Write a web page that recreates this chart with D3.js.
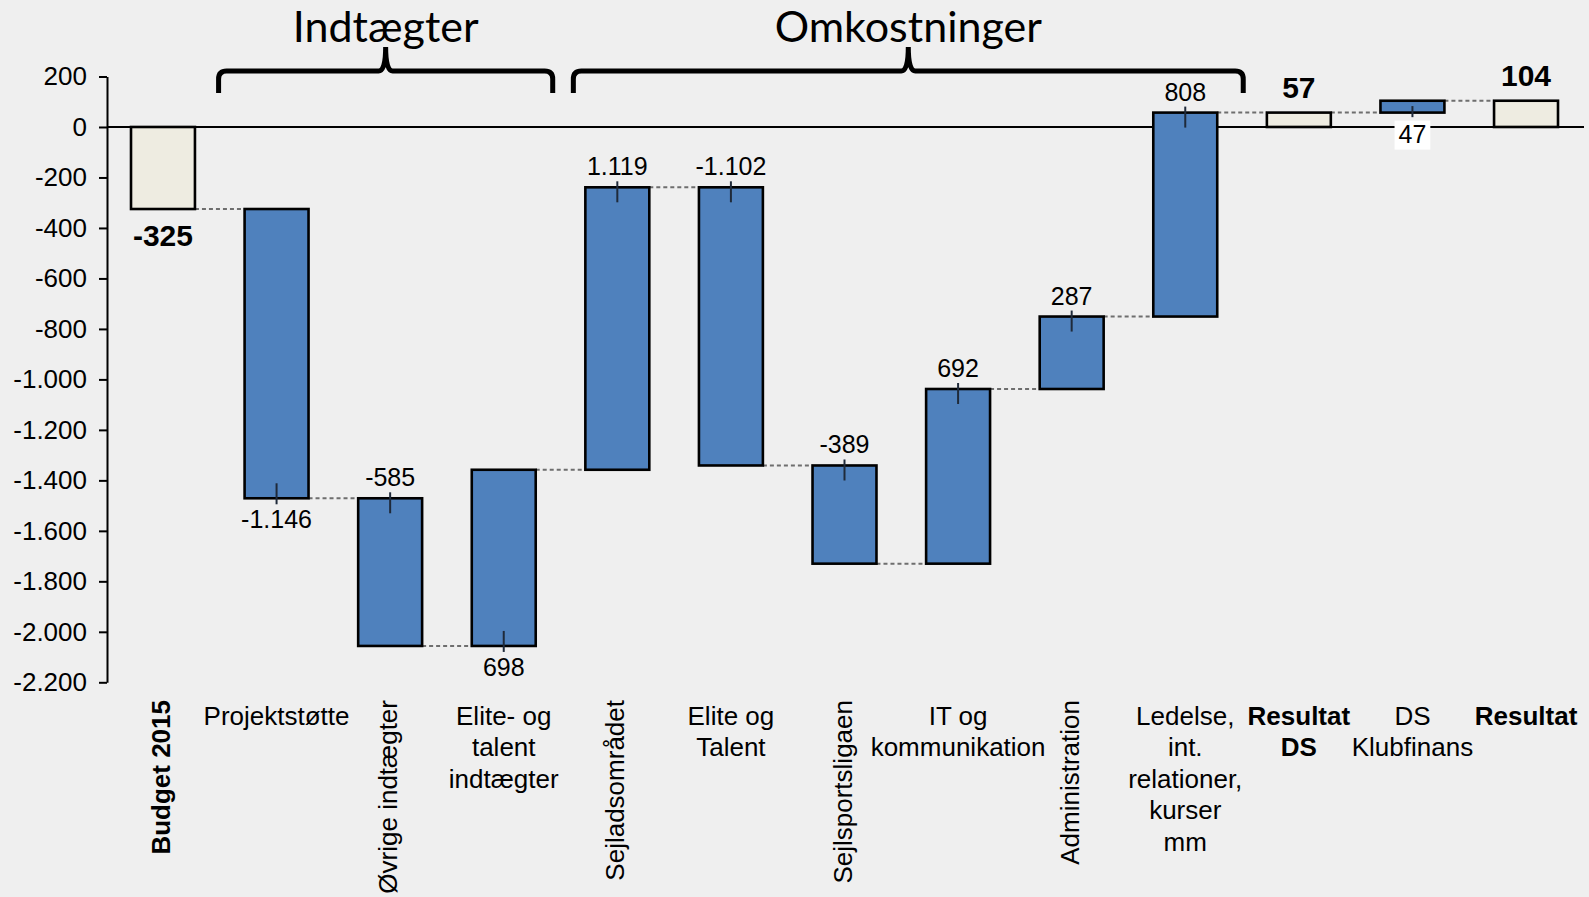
<!DOCTYPE html>
<html>
<head>
<meta charset="utf-8">
<script src="https://cdn.jsdelivr.net/npm/d3@7"></script>
<style>
body{margin:0;background:#efefef;}
svg{display:block;}
text{font-family:"Liberation Sans",Arial,sans-serif;fill:#000;}
</style>
</head>
<body>
<div id="main"></div>
<script>
// kategorier og tal (tkr.)
var categories = ["Budget 2015","Projektstøtte","Øvrige indtægter","Elite- og talent indtægter","Sejladsområdet","Elite og Talent","Sejlsportsligaen","IT og kommunikation","Administration","Ledelse, int. relationer, kurser mm","Resultat DS","DS Klubfinans","Resultat"];
var labelLines = [["Budget 2015"],["Projektstøtte"],["Øvrige indtægter"],["Elite- og","talent","indtægter"],["Sejladsområdet"],["Elite og","Talent"],["Sejlsportsligaen"],["IT og","kommunikation"],["Administration"],["Ledelse,","int.","relationer,","kurser","mm"],["Resultat","DS"],["DS","Klubfinans"],["Resultat"]];
var values = [-325,-1146,-585,698,1119,-1102,-389,692,287,808,57,47,104];
var isTotal = [1,0,0,0,0,0,0,0,0,0,1,0,1];
var rotated = [1,0,1,0,1,0,1,0,1,0,0,0,0];
var boldLabel = [1,0,0,0,0,0,0,0,0,0,1,0,1];
var labelSide = ["below","below","above","below","above","above","above","above","above","above","above","below","above"];
var yTicks = [200,0,-200,-400,-600,-800,-1000,-1200,-1400,-1600,-1800,-2000,-2200];
var groupNames = ["Indtægter","Omkostninger"];
var groupFrom = ["Projektstøtte","Sejladsområdet"];
var groupTo = ["Elite- og talent indtægter","Ledelse, int. relationer, kurser mm"];

var width = 1589, height = 897;
var svg = d3.select("#main").append("svg")
    .attr("width", width).attr("height", height);

var loc = d3.formatLocale({decimal:",", thousands:".", grouping:[3], currency:["","kr"], minus:"-"});
var fmt = loc.format(",d");

var x = d3.scaleBand().domain(categories).range([131,1558]).paddingInner(0.437).paddingOuter(0);
var y = d3.scaleLinear().domain([-2200,200]).range([682.3,76.5]);
var bw = x.bandwidth();

// løbende total
var run = 0;
var bars = values.map(function(v,i){
  var b;
  if(isTotal[i]){ b = {y0:0, y1:v}; run = v; }
  else { b = {y0:run, y1:run+v}; run = run+v; }
  b.cat = categories[i]; b.v = v; b.i = i;
  return b;
});

// y-akse
var yAxis = d3.axisLeft(y).tickValues(yTicks).tickFormat(fmt).tickSize(8).tickSizeOuter(0).tickPadding(12);
var ga = svg.append("g").attr("transform","translate(107,0)").call(yAxis);
ga.select(".domain").attr("stroke","#000").attr("stroke-width",2);
ga.selectAll(".tick line").attr("stroke","#000").attr("stroke-width",2);
ga.selectAll(".tick text").style("font-family","'Liberation Sans',Arial,sans-serif").style("font-size","26px").attr("fill","#000");

// forbindelseslinjer
svg.selectAll(".conn").data(bars.slice(0,bars.length-1)).enter().append("line")
  .attr("class","conn")
  .attr("x1", function(d){ return x(d.cat)+bw; })
  .attr("x2", function(d,i){ return x(categories[i+1]); })
  .attr("y1", function(d){ return y(d.y1); })
  .attr("y2", function(d){ return y(d.y1); })
  .attr("stroke","#6e6e6e").attr("stroke-width",2).attr("stroke-dasharray","4,3");

// nul-linje
svg.append("line").attr("x1",107).attr("x2",1584).attr("y1",y(0)).attr("y2",y(0))
  .attr("stroke","#000").attr("stroke-width",2);

// søjler
svg.selectAll(".bar").data(bars).enter().append("rect")
  .attr("class","bar")
  .attr("x", function(d){ return x(d.cat); })
  .attr("width", bw)
  .attr("y", function(d){ return y(Math.max(d.y0,d.y1)); })
  .attr("height", function(d){ return Math.abs(y(d.y0)-y(d.y1)); })
  .attr("fill", function(d){ return isTotal[d.i] ? "#eeece1" : "#4f81bd"; })
  .attr("stroke","#000").attr("stroke-width",2.6);

// små streger ved værdierne
bars.forEach(function(d){
  if(isTotal[d.i]) return;
  var top = y(Math.max(d.y0,d.y1)), bot = y(Math.min(d.y0,d.y1));
  var h = bot-top, cx = x(d.cat)+bw/2;
  var inw = Math.min(15, h*0.55), outw = Math.min(6, h*0.3+1);
  var a, b;
  if(labelSide[d.i]=="above"){ a = top-outw; b = top+inw; }
  else { a = bot-inw; b = bot+outw; }
  svg.append("line").attr("x1",cx).attr("x2",cx).attr("y1",a).attr("y2",b)
    .attr("stroke","#1f2a3a").attr("stroke-width",2);
});

// værdi-labels
bars.forEach(function(d){
  var top = y(Math.max(d.y0,d.y1)), bot = y(Math.min(d.y0,d.y1));
  var cx = x(d.cat)+bw/2;
  var b = isTotal[d.i]==1;
  var ty;
  if(labelSide[d.i]=="above") ty = b ? top-15 : top-12;
  else ty = b ? bot+37 : bot+30;
  var t = svg.append("text").attr("x",cx).attr("y",ty).attr("text-anchor","middle")
    .style("font-size", b ? "30px" : "25px")
    .style("font-weight", b ? "bold" : "normal")
    .text(fmt(d.v));
  if(d.cat=="DS Klubfinans"){
    var bb = t.node().getBBox();
    svg.insert("rect", function(){ return t.node(); })
      .attr("x",bb.x-4).attr("y",bb.y+1).attr("width",bb.width+8).attr("height",bb.height+1)
      .attr("fill","#fff");
  }
});

// kategori-labels
categories.forEach(function(c,i){
  var cx = x(c)+bw/2;
  var fw = boldLabel[i] ? "bold" : "normal";
  if(rotated[i]){
    svg.append("text").attr("transform","translate("+(cx+7)+",700) rotate(-90)")
      .attr("text-anchor","end").style("font-size","26px").style("font-weight",fw)
      .text(labelLines[i][0]);
  } else {
    var t = svg.append("text").attr("text-anchor","middle").style("font-size","26px").style("font-weight",fw);
    labelLines[i].forEach(function(l,k){
      t.append("tspan").attr("x",cx).attr("y",725+k*31.4).text(l);
    });
  }
});

// klammer og overskrifter
var bracketPad = [[-26,17],[-12,26]];
groupNames.forEach(function(g,i){
  var x0 = x(groupFrom[i])+bracketPad[i][0];
  var x1 = x(groupTo[i])+bw+bracketPad[i][1];
  var mid = (x0+x1)/2, hy = 71, by = 93, py = 47;
  var p = "M"+x0+","+by+" L"+x0+","+(hy+8)+" Q"+x0+","+hy+" "+(x0+8)+","+hy+
    " L"+(mid-7)+","+hy+" Q"+mid+","+hy+" "+mid+","+py+
    " Q"+mid+","+hy+" "+(mid+7)+","+hy+
    " L"+(x1-8)+","+hy+" Q"+x1+","+hy+" "+x1+","+(hy+8)+" L"+x1+","+by;
  svg.append("path").attr("d",p).attr("fill","none").attr("stroke","#000").attr("stroke-width",5);
  svg.append("text").attr("x",mid).attr("y",42).attr("text-anchor","middle")
    .style("font-family","Lato,'Open Sans',sans-serif").style("font-size","43px")
    .text(g);
});
</script>
</body>
</html>
